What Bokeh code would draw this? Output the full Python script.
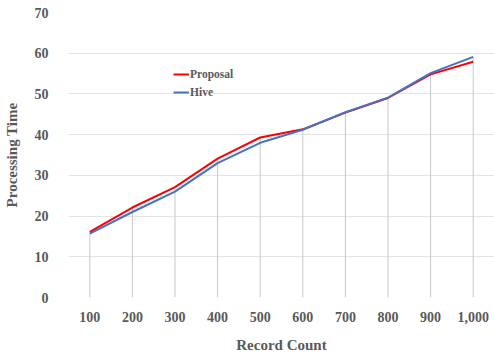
from bokeh.plotting import figure
from bokeh.models import Legend, LegendItem, Range1d, FactorRange
from bokeh.embed import file_html
from bokeh.resources import INLINE

categories = ["100", "200", "300", "400", "500", "600", "700", "800", "900", "1,000"]
proposal = [16.1, 22.1, 27.1, 34.1, 39.3, 41.3, 45.4, 49.0, 54.8, 57.9]
hive = [15.7, 21.0, 26.0, 33.0, 38.0, 41.2, 45.5, 49.1, 55.1, 59.1]
y_ticks = [0, 10, 20, 30, 40, 50, 60, 70]

FONT = "Liberation Serif"
GRAY = "#595959"

p = figure(width=494, height=355, x_range=FactorRange(*categories, range_padding=0),
           y_range=Range1d(0, 70), output_backend="svg", toolbar_location=None,
           min_border_left=67, min_border_right=0, min_border_top=12,
           min_border_bottom=57)
p.outline_line_color = None
p.background_fill_color = "white"
p.border_fill_color = "white"

drop_top = [max(a, b) for a, b in zip(proposal, hive)]
p.segment(x0=categories, y0=[0] * len(categories), x1=categories, y1=drop_top,
          line_color="#c8c8c8", line_width=1)

r1 = p.line(categories, proposal, line_color="#ff0000", line_width=2)
r2 = p.line(categories, hive, line_color="#4472c4", line_width=2)

p.xgrid.grid_line_color = None
p.ygrid.grid_line_color = "#e4e4e4"
p.ygrid.grid_line_width = 1
p.yaxis.ticker = y_ticks

for ax in (p.xaxis[0], p.yaxis[0]):
    ax.axis_line_color = None
    ax.major_tick_line_color = None
    ax.minor_tick_line_color = None
    ax.major_label_text_font = FONT
    ax.major_label_text_font_style = "bold"
    ax.major_label_text_font_size = "14px"
    ax.major_label_text_color = GRAY
    ax.axis_label_text_font = FONT
    ax.axis_label_text_font_style = "bold"
    ax.axis_label_text_font_size = "15px"
    ax.axis_label_text_color = GRAY

p.yaxis.major_label_standoff = 14
p.xaxis.major_label_standoff = 8
p.xaxis.axis_label = "Record Count"
p.yaxis.axis_label = "Processing Time"
p.xaxis.axis_label_standoff = 12
p.yaxis.axis_label_standoff = 12
p.xaxis.group_text_font_size = "0px"

legend = Legend(items=[LegendItem(label="Proposal", renderers=[r1]),
                       LegendItem(label="Hive", renderers=[r2])],
                location=(105, 196), orientation="vertical")
legend.padding = 0
legend.margin = 0
legend.spacing = 0
legend.glyph_width = 16
legend.glyph_height = 18
legend.label_height = 18
legend.label_standoff = 1
legend.label_text_font = FONT
legend.label_text_font_style = "bold"
legend.label_text_font_size = "11.5px"
legend.label_text_color = GRAY
legend.background_fill_alpha = 0
legend.border_line_color = None
p.add_layout(legend)

open("out.html", "w").write(file_html(p, INLINE))
